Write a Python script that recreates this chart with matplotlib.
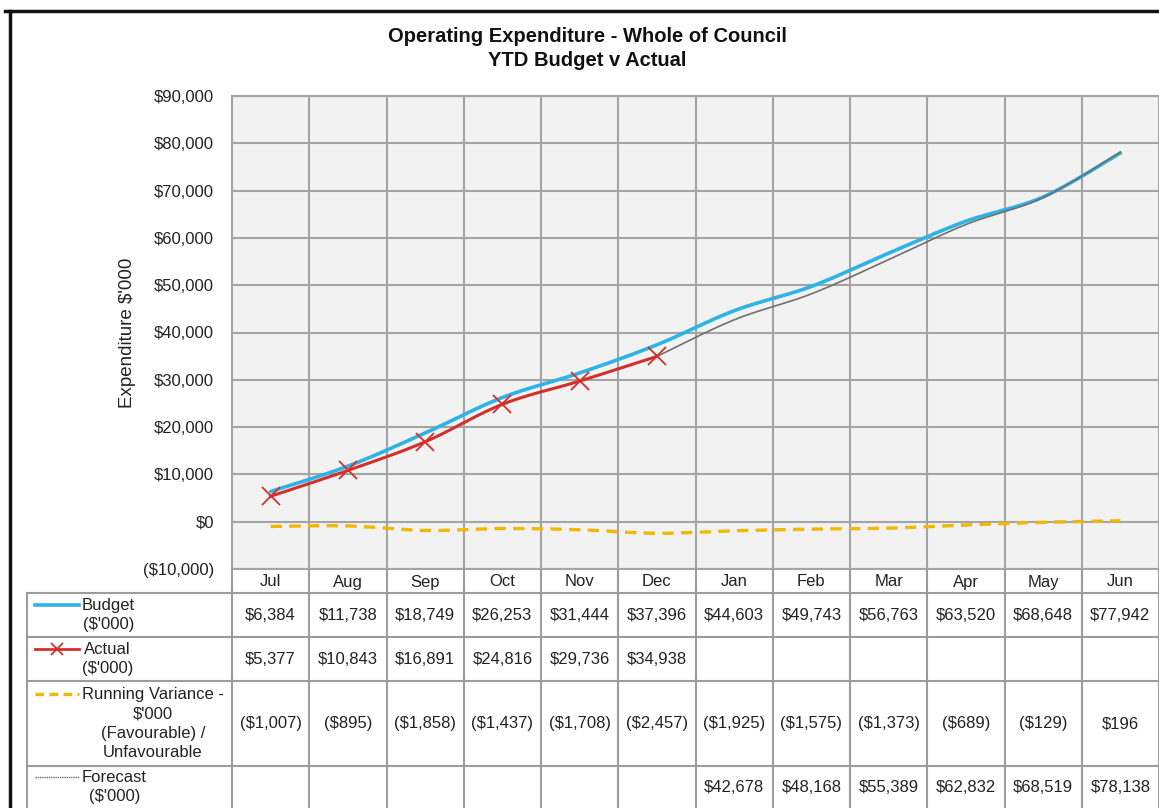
import numpy as np
import matplotlib
matplotlib.use("Agg")
import matplotlib.pyplot as plt
from matplotlib.ticker import FuncFormatter, MultipleLocator
from matplotlib.lines import Line2D

plt.rcParams['font.family'] = ['Liberation Sans', 'DejaVu Sans']

# YTD figures in $'000
months = ['Jul', 'Aug', 'Sep', 'Oct', 'Nov', 'Dec', 'Jan', 'Feb', 'Mar', 'Apr', 'May', 'Jun']
budget = [6384, 11738, 18749, 26253, 31444, 37396, 44603, 49743, 56763, 63520, 68648, 77942]
actual = [5377, 10843, 16891, 24816, 29736, 34938]
variance = [-1007, -895, -1858, -1437, -1708, -2457, -1925, -1575, -1373, -689, -129, 196]
forecast = [None] * 6 + [42678, 48168, 55389, 62832, 68519, 78138]

row_labels = ["Budget\n($'000)", "Actual\n($'000)",
              "Running Variance -\n$'000\n(Favourable) /\nUnfavourable",
              "Forecast\n($'000)"]

BLUE = '#2DB3E6'
RED = '#D2302C'
GOLD = '#F2B700'
GREY = '#707070'
TXT = '#222222'
GRID = '#A4A4A4'

W, H = 1159, 808
FS = 12


def money(v, pos=None):
    if v is None:
        return ''
    if v < 0:
        return '(${:,.0f})'.format(-v)
    return '${:,.0f}'.format(v)


# Excel style smoothed line: bezier segments with catmull-rom control points
def smooth(xs, ys, n=24):
    pts = np.column_stack([xs, ys]).astype(float)
    p = np.vstack([pts[0], pts, pts[-1]])
    t = np.linspace(0, 1, n)[:, None]
    out = []
    for i in range(1, len(p) - 2):
        p0, p1, p2, p3 = p[i - 1], p[i], p[i + 1], p[i + 2]
        c1 = p1 + (p2 - p0) / 6
        c2 = p2 - (p3 - p1) / 6
        seg = (1 - t) ** 3 * p1 + 3 * (1 - t) ** 2 * t * c1 + 3 * (1 - t) * t ** 2 * c2 + t ** 3 * p2
        out.append(seg if i == 1 else seg[1:])
    xy = np.vstack(out)
    return xy[:, 0], xy[:, 1]


def fx(px):
    return px / W


def fy(py):
    return 1 - py / H


fig = plt.figure(figsize=(W / 100, H / 100), dpi=100)

# overlay in pixel units for the frame and the data table
lay = fig.add_axes([0, 0, 1, 1])
lay.set_xlim(0, W)
lay.set_ylim(H, 0)
lay.axis('off')

plot_l, plot_r, plot_t, plot_b = 232, 1159, 96, 569
ax = fig.add_axes([fx(plot_l), fy(plot_b), fx(plot_r - plot_l), (plot_b - plot_t) / H])
ax.set_facecolor('#F2F2F2')
x = np.arange(len(months))
ax.set_xlim(-0.5, len(months) - 0.5)
ax.set_ylim(-10000, 90000)
ax.yaxis.set_major_locator(MultipleLocator(10000))
ax.yaxis.set_major_formatter(FuncFormatter(money))
ax.set_xticks(x[:-1] + 0.5)
ax.set_xticklabels([])
ax.tick_params(axis='both', length=0, labelsize=FS, labelcolor=TXT, pad=13)
ax.grid(True, color=GRID, linewidth=1.5)
for s in ax.spines.values():
    s.set_color(GRID)
    s.set_linewidth(1.5)
fig.text(fx(128), fy(333), "Expenditure $'000", rotation=90, ha='center', va='center',
         fontsize=13.5, color=TXT)

bx, by = smooth(x, budget)
ax.plot(bx, by, color=BLUE, lw=2.6, solid_capstyle='round', zorder=3)
vx, vy = smooth(x, variance)
ax.plot(vx, vy, color=GOLD, lw=2.4, dashes=(3.4, 2.2), zorder=3)
fc_idx = [i for i, v in enumerate(forecast) if v is not None]
fc_x = [len(actual) - 1] + fc_idx
fc_y = [actual[-1]] + [forecast[i] for i in fc_idx]
gx, gy = smooth(fc_x, fc_y)
ax.plot(gx, gy, color=GREY, lw=1.2, zorder=4)
ax_x, ax_y = smooth(x[:len(actual)], actual)
ax.plot(ax_x, ax_y, color=RED, lw=2.2, zorder=5)
ax.plot(x[:len(actual)], actual, ls='none', marker='x', ms=13, mew=1.3, color=RED, zorder=6)

# chart title
fig.text(fx(587), fy(37), 'Operating Expenditure - Whole of Council', ha='center', va='center',
         fontsize=14.5, fontweight='bold', color='#111111')
fig.text(fx(587), fy(60), 'YTD Budget v Actual', ha='center', va='center',
         fontsize=14.5, fontweight='bold', color='#111111')

# outer frame
lay.plot([5, W], [11, 11], color='#111111', lw=2.5)
lay.plot([10, 10], [11, H], color='#111111', lw=2.5)

# data table under the plot
col_w = (plot_r - plot_l) / len(months)
rows = [593, 637, 681, 766, H]
tcol = '#9C9C9C'
for i in range(len(months) + 1):
    lay.plot([plot_l + i * col_w] * 2, [plot_b, H], color=tcol, lw=1.5)
lay.plot([27, 27], [rows[0], H], color=tcol, lw=1.5)
for r in rows[:-1]:
    lay.plot([27, W], [r, r], color=tcol, lw=1.5)

for i, m in enumerate(months):
    cx = plot_l + (i + 0.5) * col_w
    lay.text(cx, 582, m, ha='center', va='center', fontsize=FS, color=TXT)
    series = [budget[i], actual[i] if i < len(actual) else None, variance[i], forecast[i]]
    for j, v in enumerate(series):
        lay.text(cx, (rows[j] + rows[j + 1]) / 2, money(v), ha='center', va='center',
                 fontsize=FS, color=TXT)

# legend keys inside the table
keys = [dict(color=BLUE, lw=2.6), dict(color=RED, lw=2.0, marker='x', ms=9, mew=1.3, markevery=[1]),
        dict(color=GOLD, lw=2.4, dashes=(2.6, 1.6)), dict(color=GREY, lw=1.0, dashes=(1, 0.6))]
for j, (lab, k) in enumerate(zip(row_labels, keys)):
    cy = (rows[j] + rows[j + 1]) / 2
    nl = lab.count('\n') + 1
    ky = cy - (nl - 1) * 20 / 2
    lay.add_line(Line2D([35, 57, 79], [ky] * 3, **k))
    lay.text(82, cy, lab, ha='left', va='center', multialignment='center', fontsize=FS,
             color=TXT, linespacing=1.36)

fig.savefig('out.png', dpi=100)
